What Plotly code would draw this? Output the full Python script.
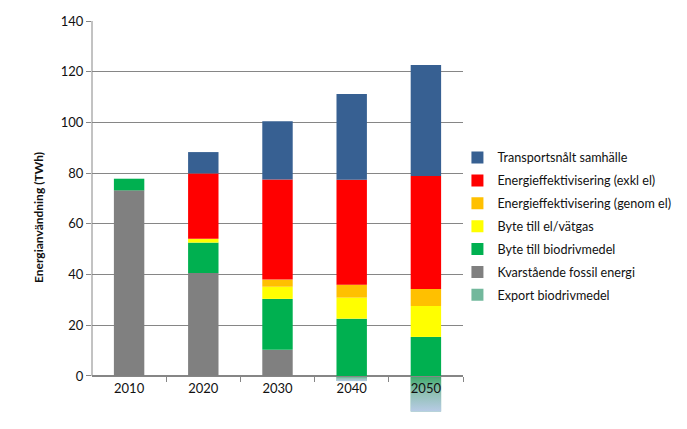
import plotly.graph_objects as go

years = ["2010", "2020", "2030", "2040", "2050"]
fossil = [73.2, 40.6, 10.3, 0, 0]
bio = [4.6, 12.0, 20.1, 22.6, 15.4]
el_vatgas = [0, 1.5, 4.8, 8.3, 12.2]
eff_genom_el = [0, 0, 2.8, 5.1, 6.7]
eff_exkl_el = [0, 25.8, 39.5, 41.4, 44.6]
transport = [0, 8.4, 23.0, 33.8, 43.7]
export_bio = [0, 0, 0, -2.0, -14.0]

names = ["Kvarstående fossil energi", "Byte till biodrivmedel", "Byte till el/vätgas",
         "Energieffektivisering (genom el)", "Energieffektivisering (exkl el)",
         "Transportsnålt samhälle"]
series = [fossil, bio, el_vatgas, eff_genom_el, eff_exkl_el, transport]
colors = ["#808080", "#00b050", "#ffff00", "#ffc000", "#ff0000", "#376092"]

BAR_W = 0.41
xs = list(range(len(years)))
YMIN = -15

fig = go.Figure()

for k, (n, s, c) in enumerate(zip(names, series, colors)):
    fig.add_trace(go.Bar(x=xs, y=s, name=n, marker=dict(color=c, line=dict(width=0)),
                         width=BAR_W, legendgroup=n, legendrank=len(names) - k))

# Export as bar (legend square), then gradient overlay on top
fig.add_trace(go.Bar(x=xs, y=export_bio, name="Export biodrivmedel",
                     marker=dict(color="#72b89c", line=dict(width=0)), width=BAR_W,
                     legendgroup="export", legendrank=len(names) + 1))
for i, e in enumerate(export_bio):
    if e >= 0:
        continue
    fig.add_trace(go.Scatter(
        x=[i - BAR_W / 2, i + BAR_W / 2, i + BAR_W / 2, i - BAR_W / 2, i - BAR_W / 2],
        y=[0, 0, e, e, 0],
        mode="none", fill="toself",
        fillgradient=dict(type="vertical",
                          colorscale=[[0, "#b8cbe6"], [0.55, "#8cc0b0"], [1, "#3aaa6a"]]),
        name="Export biodrivmedel", legendgroup="export", showlegend=False,
        hoverinfo="skip"))

# y-axis line from 0 to 140
fig.add_shape(type="line", xref="paper", yref="y", x0=0, x1=0, y0=0, y1=140,
              line=dict(color="#868686", width=1))

fig.update_layout(
    width=680, height=422,
    barmode="relative",
    plot_bgcolor="white", paper_bgcolor="white",
    margin=dict(l=84, r=225, t=13, b=16, autoexpand=False),
    font=dict(family="Lato, Open Sans, sans-serif", size=12, color="#222222"),
    showlegend=True,
    legend=dict(traceorder="grouped", tracegroupgap=3.5,
                x=0.985, xanchor="left", y=0.69, yanchor="top",
                font=dict(size=12.6, color="#111111"), itemwidth=30,
                bgcolor="rgba(0,0,0,0)"),
    xaxis=dict(range=[-0.5, 4.5], tickvals=xs, ticktext=years, ticks="",
               showgrid=False, zeroline=False, showline=True, linecolor="#868686",
               anchor="free", position=(0 - YMIN) / (140 - YMIN), automargin=False,
               minor=dict(tickvals=[0.5, 1.5, 2.5, 3.5, 4.5], ticks="outside",
                          ticklen=5, tickcolor="#868686", showgrid=False),
               tickfont=dict(size=13, color="#111111")),
    yaxis=dict(range=[YMIN, 140], tickvals=[0, 20, 40, 60, 80, 100, 120, 140],
               showgrid=True, gridcolor="#868686", gridwidth=1, zeroline=False,
               showline=False, ticks="outside", ticklen=5, tickcolor="#868686",
               tickfont=dict(size=13, color="#111111"), automargin=False,
               title=dict(text="<b>Energianvändning (TWh)</b>", font=dict(size=12, color="#111111"),
                          standoff=14)),
)

fig.write_html("out.html")
